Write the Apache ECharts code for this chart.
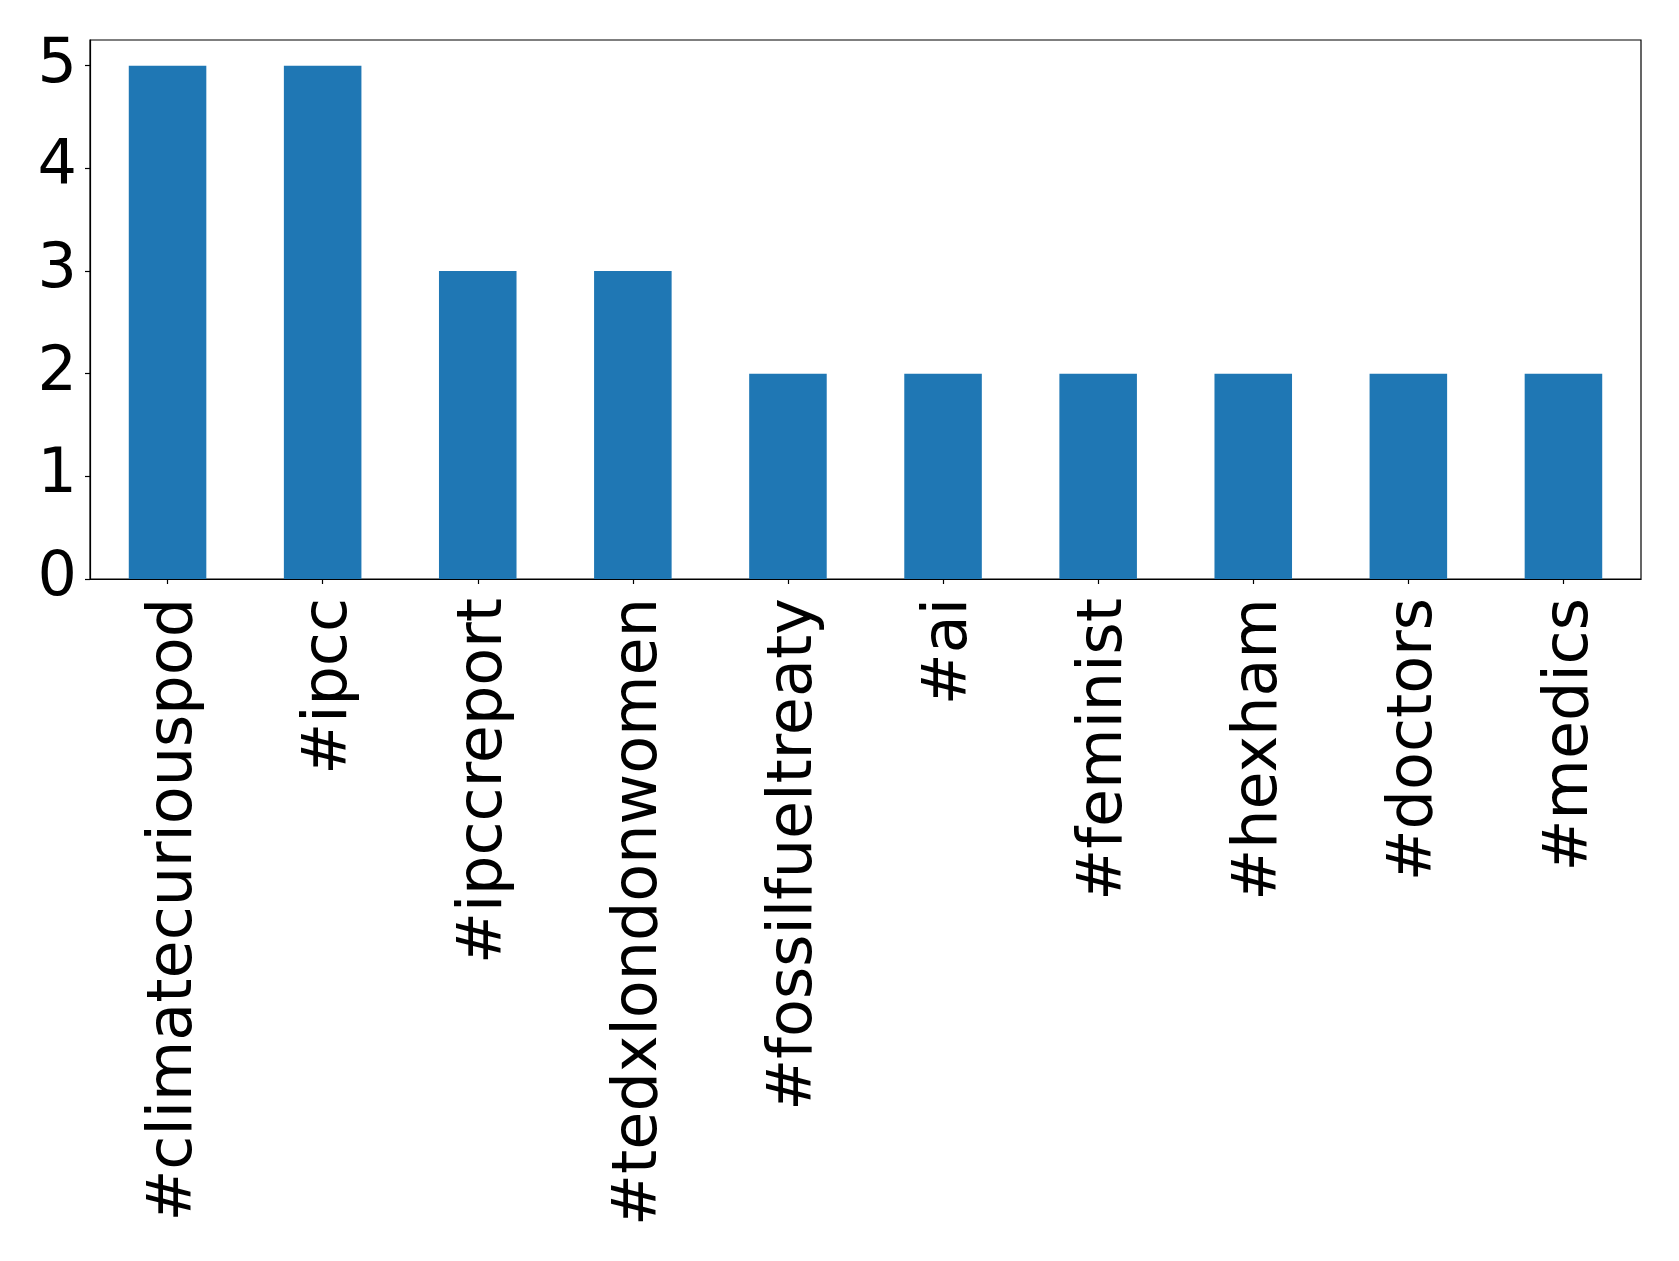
<!DOCTYPE html>
<html>
<head>
<meta charset="utf-8">
<script src="https://cdn.jsdelivr.net/npm/echarts@6/dist/echarts.min.js"></script>
<style>html,body{margin:0;padding:0;background:#fff;}#c{width:1679px;height:1261px;}</style>
</head>
<body>
<div id="c"></div>
<script>
const categories = ['#climatecuriouspod', '#ipcc', '#ipccreport', '#tedxlondonwomen', '#fossilfueltreaty', '#ai', '#feminist', '#hexham', '#doctors', '#medics'];
const counts = [5, 5, 3, 3, 2, 2, 2, 2, 2, 2];
const yTicks = [0, 1, 2, 3, 4, 5];

const chart = echarts.init(document.getElementById('c'), null, {renderer: 'canvas'});
chart.setOption({
  animation: false,
  backgroundColor: '#fff',
  textStyle: {fontFamily: 'DejaVu Sans'},
  grid: {
    left: 90, right: 38, top: 40, bottom: 682,
    show: true, borderColor: '#000', borderWidth: 1.2,
    outerBoundsMode: 'none', containLabel: false
  },
  xAxis: {
    type: 'category',
    data: categories,
    axisLine: {show: true, lineStyle: {color: '#000', width: 1.2}},
    axisTick: {show: true, alignWithLabel: true, length: 5, lineStyle: {color: '#000', width: 1.2}},
    axisLabel: {
      rotate: 90, color: '#000', margin: 19, interval: 0,
      formatter: function (v) { return '{a|' + v + '}'; },
      rich: {a: {fontSize: 62, color: '#000', fontFamily: 'DejaVu Sans', padding: [14, 0, 0, 0]}}
    },
    splitLine: {show: false}
  },
  yAxis: {
    type: 'value',
    min: 0, max: 5.25, interval: 1,
    axisLine: {show: true, lineStyle: {color: '#000', width: 1.2}},
    axisTick: {show: true, length: 5, customValues: yTicks, lineStyle: {color: '#000', width: 1.2}},
    axisLabel: {fontSize: 62, color: '#000', margin: 13, fontFamily: 'DejaVu Sans', customValues: yTicks},
    splitLine: {show: false}
  },
  series: [{
    type: 'bar',
    data: counts,
    barWidth: '50%',
    itemStyle: {color: '#1f77b4'}
  }]
});
</script>
</body>
</html>
